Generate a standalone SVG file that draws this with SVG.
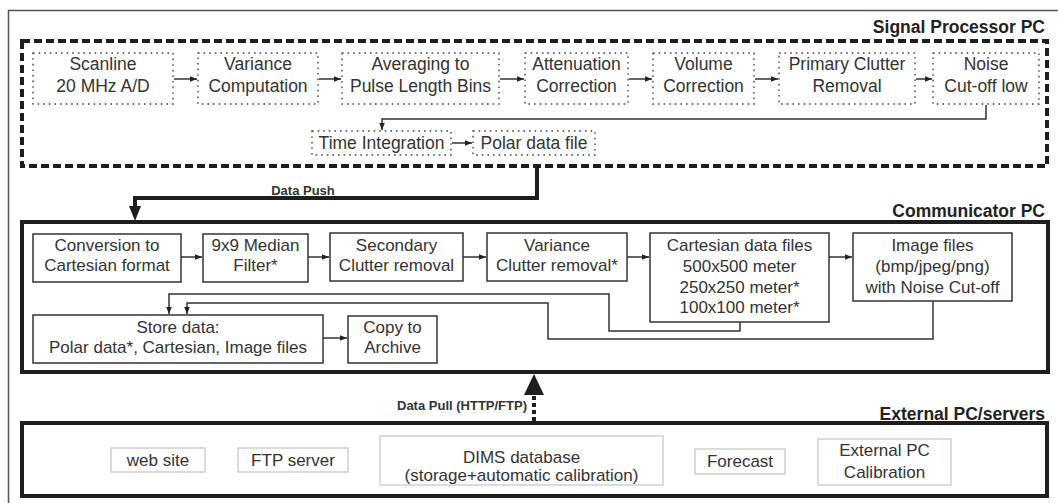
<svg xmlns="http://www.w3.org/2000/svg" width="1058" height="503" viewBox="0 0 1058 503">
<style>
text{font-family:"Liberation Sans",Arial,sans-serif;fill:#333;text-anchor:middle}
.t1{font-size:17.5px}
.t2{font-size:17px}
.lab{font-size:17.5px;font-weight:bold;text-anchor:end;fill:#222}
.sm{font-size:13px;font-weight:bold;fill:#333}
.dot{fill:none;stroke:#444;stroke-width:1.4;stroke-dasharray:1.6 4}
.sol{fill:none;stroke:#333;stroke-width:1.5}
.gry{fill:none;stroke:#c8c8c8;stroke-width:1.3}
.ln{fill:none;stroke:#333;stroke-width:1.5}
</style>
<defs>
<marker id="ah" viewBox="0 0 10 10" refX="10" refY="5" markerWidth="7" markerHeight="7" markerUnits="userSpaceOnUse" orient="auto"><path d="M0,1 L10,5 L0,9 Z" fill="#222"/></marker>
</defs>
<rect x="0" y="0" width="1058" height="503" fill="#fff"/>
<rect x="8.5" y="10.5" width="1070" height="510" fill="none" stroke="#555" stroke-width="1.5"/>

<g id="signal-processor">
<rect x="22" y="41" width="1025" height="125" fill="none" stroke="#1e1e1e" stroke-width="4" stroke-dasharray="8 4"/>
<text class="lab" x="1045" y="33">Signal Processor PC</text>
</g>
<g id="communicator">
<rect x="22" y="222" width="1026" height="150" fill="none" stroke="#1e1e1e" stroke-width="4"/>
<text class="lab" x="1045" y="217">Communicator PC</text>
</g>
<g id="external">
<rect x="22" y="423" width="1025" height="73" fill="none" stroke="#1e1e1e" stroke-width="4"/>
<text class="lab" x="1045" y="420">External PC/servers</text>
</g>

<g id="scanline"><rect class="dot" x="33" y="53" width="140" height="51"/><text class="t1" x="103" y="70">Scanline</text><text class="t1" x="103" y="92">20 MHz A/D</text></g>
<g id="variance-comp"><rect class="dot" x="198" y="53" width="120" height="51"/><text class="t1" x="258" y="70">Variance</text><text class="t1" x="258" y="92">Computation</text></g>
<g id="averaging"><rect class="dot" x="342" y="53" width="157" height="51"/><text class="t1" x="420.5" y="70">Averaging to</text><text class="t1" x="420.5" y="92">Pulse Length Bins</text></g>
<g id="attenuation"><rect class="dot" x="525" y="53" width="103" height="51"/><text class="t1" x="576.5" y="70">Attenuation</text><text class="t1" x="576.5" y="92">Correction</text></g>
<g id="volume"><rect class="dot" x="653" y="53" width="101" height="51"/><text class="t1" x="703.5" y="70">Volume</text><text class="t1" x="703.5" y="92">Correction</text></g>
<g id="primary-clutter"><rect class="dot" x="779" y="53" width="136" height="51"/><text class="t1" x="847" y="70">Primary Clutter</text><text class="t1" x="847" y="92">Removal</text></g>
<g id="noise"><rect class="dot" x="933" y="53" width="106" height="51"/><text class="t1" x="986" y="70">Noise</text><text class="t1" x="986" y="92">Cut-off low</text></g>
<g id="time-integration"><rect class="dot" x="312" y="131" width="139" height="24"/><text class="t1" x="381.5" y="149">Time Integration</text></g>
<g id="polar-file"><rect class="dot" x="473" y="131" width="122" height="24"/><text class="t1" x="534" y="149">Polar data file</text></g>

<g id="conversion"><rect class="sol" x="33" y="234" width="148" height="48"/><text class="t2" x="107" y="251">Conversion to</text><text class="t2" x="107" y="271">Cartesian format</text></g>
<g id="median"><rect class="sol" x="203" y="234" width="105" height="48"/><text class="t2" x="255.5" y="251">9x9 Median</text><text class="t2" x="255.5" y="271">Filter*</text></g>
<g id="secondary"><rect class="sol" x="330" y="233" width="133" height="48"/><text class="t2" x="396.5" y="251">Secondary</text><text class="t2" x="396.5" y="271">Clutter removal</text></g>
<g id="variance-clutter"><rect class="sol" x="487" y="233" width="140" height="48"/><text class="t2" x="557" y="251">Variance</text><text class="t2" x="557" y="271">Clutter removal*</text></g>
<g id="cartesian"><rect class="sol" x="650" y="233" width="179" height="89"/><text class="t2" x="739.5" y="251">Cartesian data files</text><text class="t2" x="739.5" y="272">500x500 meter</text><text class="t2" x="739.5" y="293">250x250 meter*</text><text class="t2" x="739.5" y="313">100x100 meter*</text></g>
<g id="image-files"><rect class="sol" x="853" y="233" width="159" height="68"/><text class="t2" x="932.5" y="251">Image files</text><text class="t2" x="932.5" y="272">(bmp/jpeg/png)</text><text class="t2" x="932.5" y="293">with Noise Cut-off</text></g>
<g id="store"><rect class="sol" x="33" y="315" width="290" height="48"/><text class="t2" x="178" y="333">Store data:</text><text class="t2" x="178" y="353">Polar data*, Cartesian, Image files</text></g>
<g id="archive"><rect class="sol" x="348" y="316" width="89" height="47"/><text class="t2" x="392.5" y="333">Copy to</text><text class="t2" x="392.5" y="353">Archive</text></g>

<g id="website"><rect class="gry" x="111" y="448" width="94" height="24"/><text class="t2" x="158" y="466">web site</text></g>
<g id="ftp"><rect class="gry" x="238" y="448" width="110" height="24"/><text class="t2" x="293" y="466">FTP server</text></g>
<g id="dims"><rect class="gry" x="380" y="436" width="283" height="49"/><text class="t2" x="521.5" y="463">DIMS database</text><text class="t2" x="521.5" y="481">(storage+automatic calibration)</text></g>
<g id="forecast"><rect class="gry" x="695" y="449" width="90" height="25"/><text class="t2" x="740" y="467">Forecast</text></g>
<g id="ext-calib"><rect class="gry" x="818" y="439" width="133" height="46"/><text class="t2" x="884.5" y="456">External PC</text><text class="t2" x="884.5" y="478">Calibration</text></g>

<g id="connectors">
<path class="ln" marker-end="url(#ah)" d="M174,79 H197"/>
<path class="ln" marker-end="url(#ah)" d="M319,79 H341"/>
<path class="ln" marker-end="url(#ah)" d="M500,79 H524"/>
<path class="ln" marker-end="url(#ah)" d="M629,79 H652"/>
<path class="ln" marker-end="url(#ah)" d="M755,79 H778"/>
<path class="ln" marker-end="url(#ah)" d="M916,79 H932"/>
<path class="ln" marker-end="url(#ah)" d="M986,105 V119 H382 V130"/>
<path class="ln" marker-end="url(#ah)" d="M452,143 H472"/>
<path fill="none" stroke="#1e1e1e" stroke-width="4" d="M537,166 V198 H135 V208"/>
<path d="M129,206 L141,206 L135,221 Z" fill="#1e1e1e"/>
<text class="sm" x="303" y="194.5">Data Push</text>
<path class="ln" marker-end="url(#ah)" d="M181,257 H202"/>
<path class="ln" marker-end="url(#ah)" d="M308,257 H329"/>
<path class="ln" marker-end="url(#ah)" d="M463,257 H486"/>
<path class="ln" marker-end="url(#ah)" d="M627,257 H649"/>
<path class="ln" marker-end="url(#ah)" d="M829,257 H852"/>
<path class="ln" marker-end="url(#ah)" d="M740,322 V331 H609 V294 H169 V314"/>
<path class="ln" marker-end="url(#ah)" d="M933,301 V339 H548 V303 H187 V314"/>
<path class="ln" marker-end="url(#ah)" d="M323,338 H347"/>
<path fill="none" stroke="#1e1e1e" stroke-width="4" stroke-dasharray="4 3" d="M534,421 V393"/>
<path d="M524,395 L544,395 L534,374 Z" fill="#1e1e1e"/>
<text class="sm" x="527" y="409.5" style="text-anchor:end">Data Pull (HTTP/FTP)</text>
</g>
</svg>
